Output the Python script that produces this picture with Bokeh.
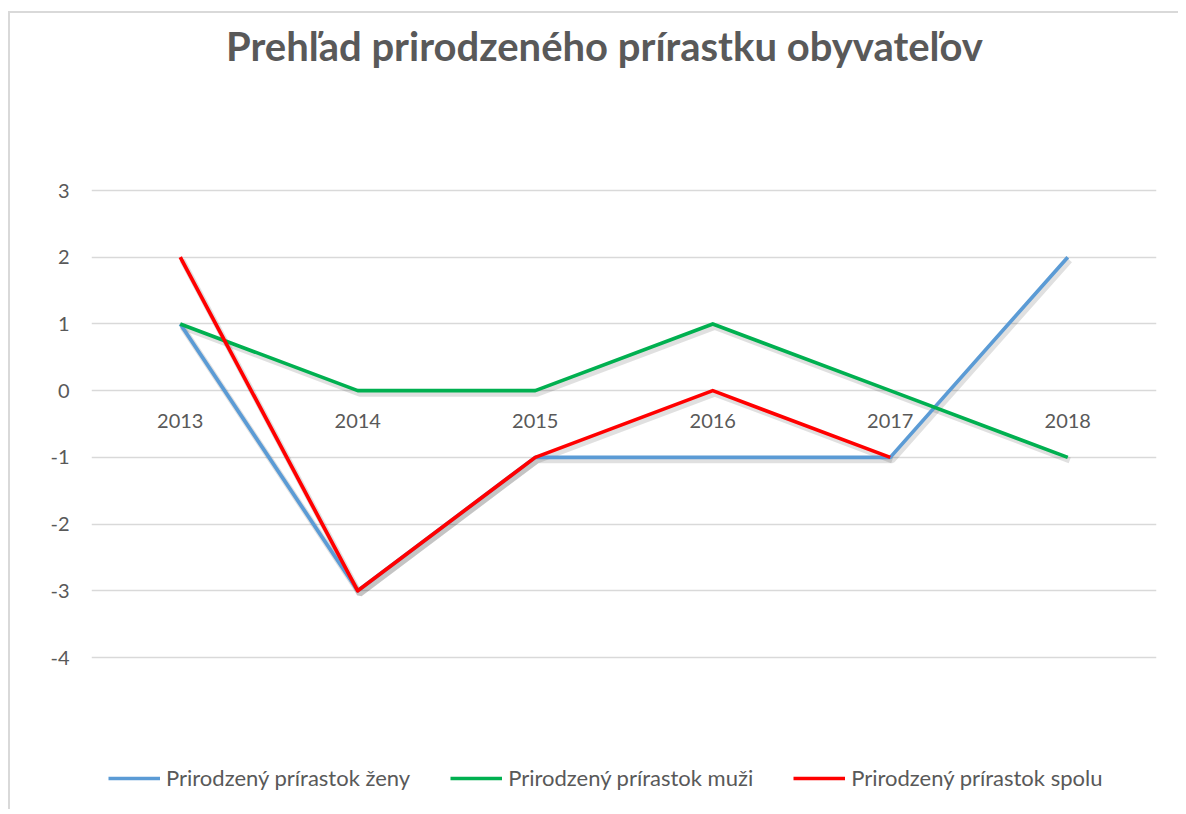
from bokeh.plotting import figure
from bokeh.models import Range1d, FixedTicker, Legend, LegendItem, Label
from bokeh.core.properties import value
from bokeh.embed import file_html
from bokeh.resources import INLINE

years = ["2013", "2014", "2015", "2016", "2017", "2018"]
zeny = [1, -3, -1, -1, -1, 2]
muzi = [1, 0, 0, 1, 0, -1]
spolu = [2, -3, -1, 0, -1, float("nan")]
series_names = ["Prirodzený prírastok ženy", "Prirodzený prírastok muži", "Prirodzený prírastok spolu"]
series_colors = ["#5B9BD5", "#00B050", "#FF0000"]
y_ticks = [-4, -3, -2, -1, 0, 1, 2, 3]
title_text = "Prehľad prirodzeného prírastku obyvateľov"

FONT = "Lato"
TXT = "#595959"

# canvas geometry (pixels)
W, H = 1170, 798
ML, MR, MT, MB = 81, 24, 5, 5
AXIS_TOP, AXIS_BOTTOM = 177, 644          # where the top / bottom gridlines sit
k = (AXIS_BOTTOM - AXIS_TOP) / (max(y_ticks) - min(y_ticks))
y_hi = max(y_ticks) + (AXIS_TOP - MT) / k
y_lo = max(y_ticks) - (H - MB - AXIS_TOP) / k
frame_h = H - MT - MB
frame_w = W - ML - MR

p = figure(width=W, height=H, output_backend="svg", toolbar_location=None,
           x_range=Range1d(-0.5, len(years) - 0.5), y_range=Range1d(y_lo, y_hi),
           min_border_left=ML, min_border_right=MR, min_border_top=MT, min_border_bottom=MB)
p.styles = {"margin-left": "8px", "margin-top": "11px",
            "border-left": "2px solid #D9D9D9", "border-top": "2px solid #D9D9D9"}
p.outline_line_color = None
p.background_fill_color = "white"
p.border_fill_color = "white"

p.xaxis.visible = False
p.xgrid.visible = False
p.yaxis.ticker = FixedTicker(ticks=y_ticks)
p.yaxis.major_label_overrides = {t: str(t) for t in y_ticks}
p.yaxis.axis_line_color = None
p.yaxis.major_tick_line_color = None
p.yaxis.minor_tick_line_color = None
p.yaxis.major_label_standoff = 16
p.yaxis.major_label_text_font = FONT
p.yaxis.major_label_text_font_size = "20px"
p.yaxis.major_label_text_color = TXT
p.ygrid.ticker = FixedTicker(ticks=y_ticks)
p.ygrid.grid_line_color = "#D9D9D9"
p.ygrid.grid_line_width = 1.5

xs = list(range(len(years)))
dx = 2.0 * len(years) / frame_w
dy = 3.0 / k

for vals in [zeny, muzi, spolu]:
    p.line([x + dx for x in xs], [v - dy for v in vals], line_color="black", line_alpha=0.12, line_width=6)
renderers = []
for vals, col in zip([zeny, muzi, spolu], series_colors):
    renderers.append(p.line(xs, vals, line_color=col, line_width=3.7, line_join="round"))

p.text(x=xs, y=[0] * len(years), text=years, y_offset=30, text_align="center", text_baseline="middle",
       text_font=value(FONT), text_font_size="20px", text_color=TXT)

legend = Legend(items=[LegendItem(label=n, renderers=[r]) for n, r in zip(series_names, renderers)],
                orientation="horizontal", location=(17, 15), padding=0, margin=0, spacing=40,
                glyph_width=52, glyph_height=22, label_standoff=6,
                label_text_font=FONT, label_text_font_size="22px", label_text_color=TXT,
                border_line_color=None, background_fill_alpha=0)
p.add_layout(legend, "center")

title = Label(x=513, y=H - MB - 32, x_units="screen", y_units="screen", text=title_text,
              text_align="center", text_baseline="alphabetic", text_font=FONT,
              text_font_style="bold", text_font_size="40px", text_color=TXT)
p.add_layout(title)

open("out.html", "w").write(file_html(p, INLINE))
